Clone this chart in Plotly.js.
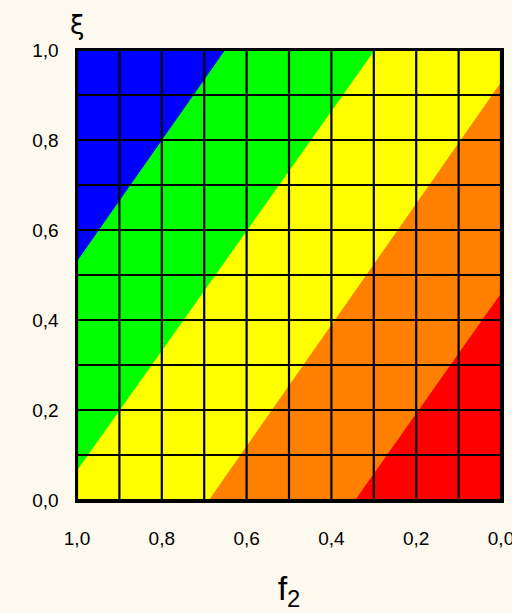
<!DOCTYPE html>
<html>
<head>
<meta charset="utf-8">
<script src="https://cdn.plot.ly/plotly-3.0.1.min.js"></script>
<style>
  html, body { margin: 0; padding: 0; background: #fdf9ee; }
  #chart { width: 512px; height: 613px; }
</style>
</head>
<body>
<div id="chart"></div>
<script>
// Region polygons in data coordinates (f2, xi)
const regionNames  = ["red", "orange", "yellow", "green", "blue"];
const regionColors = ["#ff0000", "#ff8000", "#ffff00", "#00ff00", "#0000ff"];
const regionF2 = [
  [0.345, 0.0, 0.0],
  [0.69, 0.345, 0.0, 0.0],
  [1.0, 0.69, 0.0, 0.0, 0.299, 1.0],
  [1.0, 0.299, 0.652, 1.0],
  [1.0, 0.652, 1.0]
];
const regionXi = [
  [0.0, 0.0, 0.461],
  [0.0, 0.0, 0.461, 0.93],
  [0.0, 0.0, 0.93, 1.0, 1.0, 0.067],
  [0.067, 1.0, 1.0, 0.532],
  [0.532, 1.0, 1.0]
];

// Grid / tick values
const gridVals = [0, 0.1, 0.2, 0.3, 0.4, 0.5, 0.6, 0.7, 0.8, 0.9, 1.0];
const tickVals = [0, 0.2, 0.4, 0.6, 0.8, 1.0];
const tickText = ["0,0", "0,2", "0,4", "0,6", "0,8", "1,0"];

const traces = regionNames.map((name, i) => ({
  type: "scatter",
  mode: "lines",
  name: name,
  x: regionF2[i].concat([regionF2[i][0]]),
  y: regionXi[i].concat([regionXi[i][0]]),
  fill: "toself",
  fillcolor: regionColors[i],
  line: { color: regionColors[i], width: 1 },
  hoverinfo: "skip"
}));

// Grid lines built from the grid values
const gx = [], gy = [];
gridVals.forEach(v => {
  gx.push(v, v, null); gy.push(0, 1, null);
  gx.push(0, 1, null); gy.push(v, v, null);
});
traces.push({
  type: "scatter", mode: "lines", x: gx, y: gy,
  line: { color: "#000000", width: 2.2 }, hoverinfo: "skip", connectgaps: false
});

const tickFont = { family: "Liberation Sans, Arial, sans-serif", size: 19, color: "#000000" };

const layout = {
  width: 512, height: 613,
  paper_bgcolor: "#fdf9ee",
  plot_bgcolor: "#fdf9ee",
  showlegend: false,
  hovermode: false,
  margin: { l: 77, r: 11, t: 50, b: 113 },
  xaxis: {
    range: [1, 0],
    tickvals: tickVals, ticktext: tickText,
    tickfont: tickFont,
    ticklabeloverflow: "allow",
    showgrid: false, zeroline: false,
    showline: true, mirror: true, linecolor: "#000000", linewidth: 2.5,
    ticks: "", ticklabelstandoff: 20,
    layer: "above traces",
    title: { text: "f<sub>2</sub>", font: { family: "Liberation Sans, Arial, sans-serif", size: 34, color: "#000000" }, standoff: 28 }
  },
  yaxis: {
    range: [0, 1],
    tickvals: tickVals, ticktext: tickText,
    tickfont: tickFont,
    showgrid: false, zeroline: false,
    showline: true, mirror: true, linecolor: "#000000", linewidth: 2.5,
    ticks: "", ticklabelstandoff: 12,
    layer: "above traces"
  },
  annotations: [{
    text: "ξ", xref: "paper", yref: "paper", x: 0, y: 1,
    xanchor: "center", yanchor: "bottom", yshift: 8, showarrow: false,
    font: { family: "DejaVu Sans, sans-serif", size: 26, color: "#000000" }
  }]
};

Plotly.newPlot("chart", traces, layout, { staticPlot: true, displayModeBar: false });
</script>
</body>
</html>
